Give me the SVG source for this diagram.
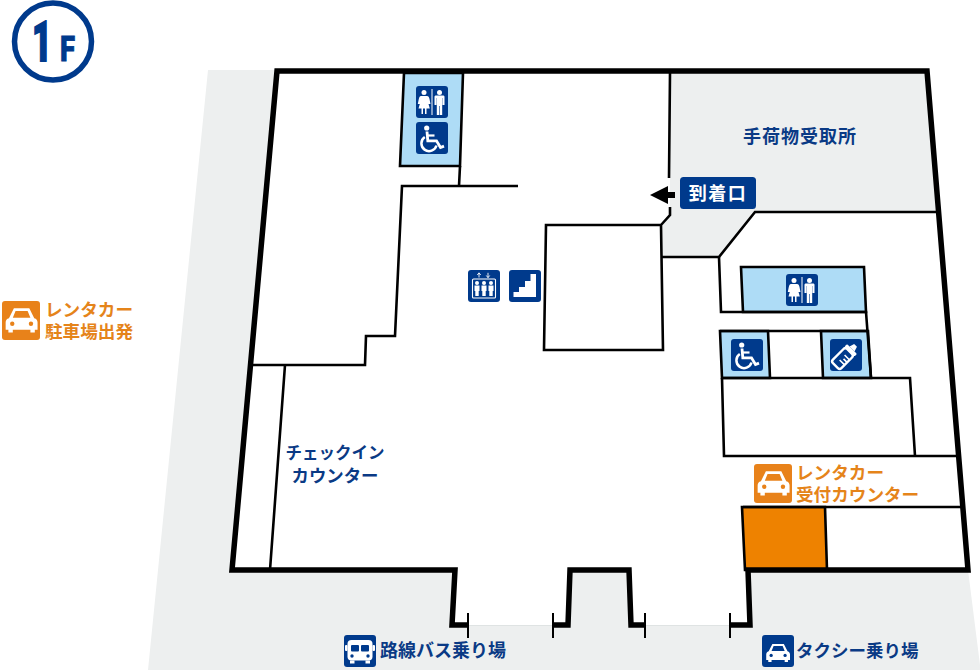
<svg xmlns="http://www.w3.org/2000/svg" width="980" height="670" viewBox="0 0 980 670">
<style>
text{font-family:"Noto Sans CJK JP","Noto Sans",sans-serif;font-weight:700}
.n{fill:#003a8c}.nt{fill:#0a3a85;font-size:16.500px}.ot{fill:#e5841a;font-size:17.600px}
.w{fill:none;stroke:#000;stroke-width:5.500;stroke-linejoin:miter}
.l{fill:none;stroke:#000;stroke-width:2.600;stroke-linejoin:miter}
.t{fill:none;stroke:#000;stroke-width:2}
.b{fill:#aedcf6;stroke:#000;stroke-width:2.600}
.i{fill:#fff}.is{fill:none;stroke:#fff}
</style>
<defs>
<g id="wc">
<rect width="32" height="32" rx="3" class="n"/>
<circle cx="8" cy="6.500" r="2.500" class="i"/>
<path d="M5 10h6c1.500 0 2 1 2.500 3l1 5h-2l-.7-2.500 2 7H10.500v5.500h-1.500v-5.500h-2v5.500H5.500v-5.500H2.500l2-7-.7 2.500h-2l1-5c.5-2 1-3 2.200-3z" class="i"/>
<rect x="15.500" y="3" width="1" height="26" class="i"/>
<circle cx="23.500" cy="6.500" r="2.500" class="i"/>
<path d="M20 9.500h7c1 0 1.500.5 1.500 1.500v8h-2v-7h-.3v17h-2.400v-9h-.6v9h-2.400V12h-.3v7h-2v-8c0-1 .5-1.500 1.500-1.500z" class="i"/>
</g>
<g id="wheel">
<rect width="32" height="32" rx="3" class="n"/>
<circle cx="10.700" cy="6" r="2.600" class="i"/>
<path d="M11 9.500l.8 9.300h8.700l4 6.700 3.500-1.400" class="is" stroke-width="2.800"/>
<path d="M11.500 13.500h7" class="is" stroke-width="2.200"/>
<path d="M8.800 15a7.700 7.700 0 1 0 11.700 8.500" class="is" stroke-width="2.500"/>
</g>
<g id="bottle">
<rect width="32" height="32" rx="3" class="n"/>
<g transform="rotate(45 16 16)">
<rect x="10" y="11" width="12" height="20" rx="2.500" fill="none" stroke="#fff" stroke-width="2.400"/>
<rect x="9" y="7.500" width="14" height="3.500" rx="1" class="i"/><path d="M12.500 7.500l1.500-5h4l1.500 5z" class="i"/>
<path d="M15 17h7M17 20.500h5M15 24h7" class="is" stroke-width="1.600"/>
</g>
</g>
<g id="ev">
<rect width="32" height="32" rx="3" class="n"/>
<path d="M11 7.500V3M9.300 5L11 2.800 12.700 5M20 2.800v4.700M18.300 5.500L20 7.700l1.700-2.200" class="is" stroke-width=".9"/>
<rect x="4.500" y="9" width="23" height="19" rx="1" fill="none" stroke="#fff" stroke-width="1.100"/>
<g id="evp"><circle cx="9" cy="13" r="2" class="i"/><path d="M6.500 15.500h5V21H10.700v5H7.300v-5h-.8z" class="i"/></g>
<use href="#evp" x="7"/><use href="#evp" x="14"/>
</g>
<g id="stairs">
<rect width="32" height="32" rx="3" class="n"/>
<path d="M4.500 27v-5H10v-5h6v-6h5.500V4H27v23z" class="i"/>
</g>
<g id="car">
<path d="M9 6h14l4.500 9c2 .5 3 2 3 4v6.500H28V28h-4v-2.500H8V28H4v-2.500H1.500V19c0-2 1-3.500 3-4z" class="i"/>
<path d="M10.500 8.500h11l2.500 6H8z"/>
<circle cx="7.500" cy="20" r="2"/><circle cx="24.500" cy="20" r="2"/>
</g>
<g id="bus">
<rect x="3.500" y="5" width="25" height="20.500" rx="4" class="i"/>
<rect x="1" y="10" width="2.500" height="6" rx="1" class="i"/><rect x="28.500" y="10" width="2.500" height="6" rx="1" class="i"/>
<rect x="7" y="10" width="8" height="6.500" rx="1" class="n"/><rect x="17" y="10" width="8" height="6.500" rx="1" class="n"/>
<circle cx="8" cy="21" r="1.700" class="n"/><circle cx="24" cy="21" r="1.700" class="n"/>
<rect x="6" y="25.500" width="4.500" height="3" class="i"/><rect x="21.500" y="25.500" width="4.500" height="3" class="i"/>
</g>
</defs>

<g id="ground">
<path d="M208 70H276L232 570H455L453 625H749L747 570H968L980 665V670H148Z" fill="#edefef"/>
<rect x="570" y="570" width="60" height="56" fill="#edefef"/>
<path d="M670 73H926L936 212H755L720 257H662V225L670 215Z" fill="#edefef"/>
<path d="M468 625.500H553M645 625.500H730" stroke="#dfe3e3" stroke-width="1"/>
</g>

<g id="rooms">
<path id="room-wc1" class="b" d="M404 73H463L460 166H400Z"/>
<path id="room-wc2" class="b" d="M741 267H864L866 312H743Z"/>
<path id="room-accessible" class="b" d="M720 331H768L770 378H722Z"/>
<path id="room-nursing" class="b" d="M821 331H868L871 378H823Z"/>
<path id="rental-counter" d="M742 507H825L827 570H745Z" fill="#ee8200" stroke="#000" stroke-width="2.600"/>
</g>

<g id="connectors">
<path class="l" d="M460 166L459 186M518 186H402L395 336H366L365 365H253M285 365L270 570"/>
<path class="l" d="M670 73L669 178M670 207V215L661 225M661 225H546L544 350H663L661 225M662 257H719L755 212H936"/>
<path class="l" d="M719 257L721 312H866L871 378M722 378L724 456H958M722 378H910L915 456M743 507H962M720 331H868"/>
<path class="w" d="M468 625H452L455 570H232L277 71H927L968 570H748L750 625H730M645 625H631L629 570H570L568 625H553"/>
<path class="t" d="M468 613V638M553 613V638M645 613V638M730 613V638"/>
</g>

<g id="floor-label">
<circle cx="53" cy="41.500" r="38.500" fill="none" stroke="#003a8c" stroke-width="5.500"/>
<text x="32" y="60.500" textLength="20" lengthAdjust="spacingAndGlyphs" stroke="#003a8c" stroke-width="1.800" style="font-family:Roboto,'Liberation Sans',sans-serif;font-weight:900;font-size:55px;fill:#003a8c">1</text>
<text x="60" y="60.500" textLength="15" lengthAdjust="spacingAndGlyphs" stroke="#003a8c" stroke-width=".8" style="font-family:Roboto,'Liberation Sans',sans-serif;font-weight:900;font-size:35px;fill:#003a8c">F</text>
</g>

<g id="node-wc1"><use href="#wc" x="416" y="86"/></g>
<g id="node-accessible1"><use href="#wheel" x="416" y="122"/></g>
<g id="node-wc2"><use href="#wc" x="786" y="274"/></g>
<g id="node-accessible2"><use href="#wheel" x="731" y="339"/></g>
<g id="node-nursing"><use href="#bottle" x="830" y="339"/></g>
<g id="node-elevator"><use href="#ev" x="468" y="270"/></g>
<g id="node-stairs"><use href="#stairs" x="509" y="270"/></g>

<g id="node-baggage"><text x="800" y="143" text-anchor="middle" class="nt" style="font-size:18px;letter-spacing:1px">手荷物受取所</text></g>

<g id="node-arrivals">
<path d="M650 195L668 186V192H675V198H668V204Z" fill="#000"/>
<rect x="680" y="177" width="76" height="32" rx="3.500" class="n"/>
<text x="718" y="200" text-anchor="middle" style="fill:#fff;font-size:18px;letter-spacing:1.500px">到着口</text>
</g>

<g id="node-checkin">
<text x="335" y="459" text-anchor="middle" class="nt">チェックイン</text>
<text x="335" y="482" text-anchor="middle" class="nt" style="font-size:17.400px">カウンター</text>
</g>

<g id="node-rental-parking">
<rect x="2" y="301" width="38" height="39" rx="3" fill="#e8821a"/>
<use href="#car" transform="translate(4,301.700) scale(1.100)" fill="#e8821a"/>
<text x="45" y="316" class="ot">レンタカー</text>
<text x="45" y="338" class="ot">駐車場出発</text>
</g>

<g id="node-rental-counter">
<rect x="754" y="464" width="38" height="39" rx="3" fill="#e8821a"/>
<use href="#car" transform="translate(756,464.700) scale(1.100)" fill="#e8821a"/>
<text x="796" y="479" class="ot">レンタカー</text>
<text x="796" y="501" class="ot">受付カウンター</text>
</g>

<g id="node-bus">
<rect x="344" y="635" width="32" height="32" rx="3" class="n"/>
<use href="#bus" x="344" y="635"/>
<text x="380" y="657" class="nt" style="font-size:18px">路線バス乗り場</text>
</g>

<g id="node-taxi">
<rect x="762" y="635" width="32" height="32" rx="3" class="n"/>
<use href="#car" transform="translate(765,639) scale(.82)" fill="#003a8c"/>
<text x="796" y="657" class="nt" style="font-size:17.500px">タクシー乗り場</text>
</g>
</svg>
